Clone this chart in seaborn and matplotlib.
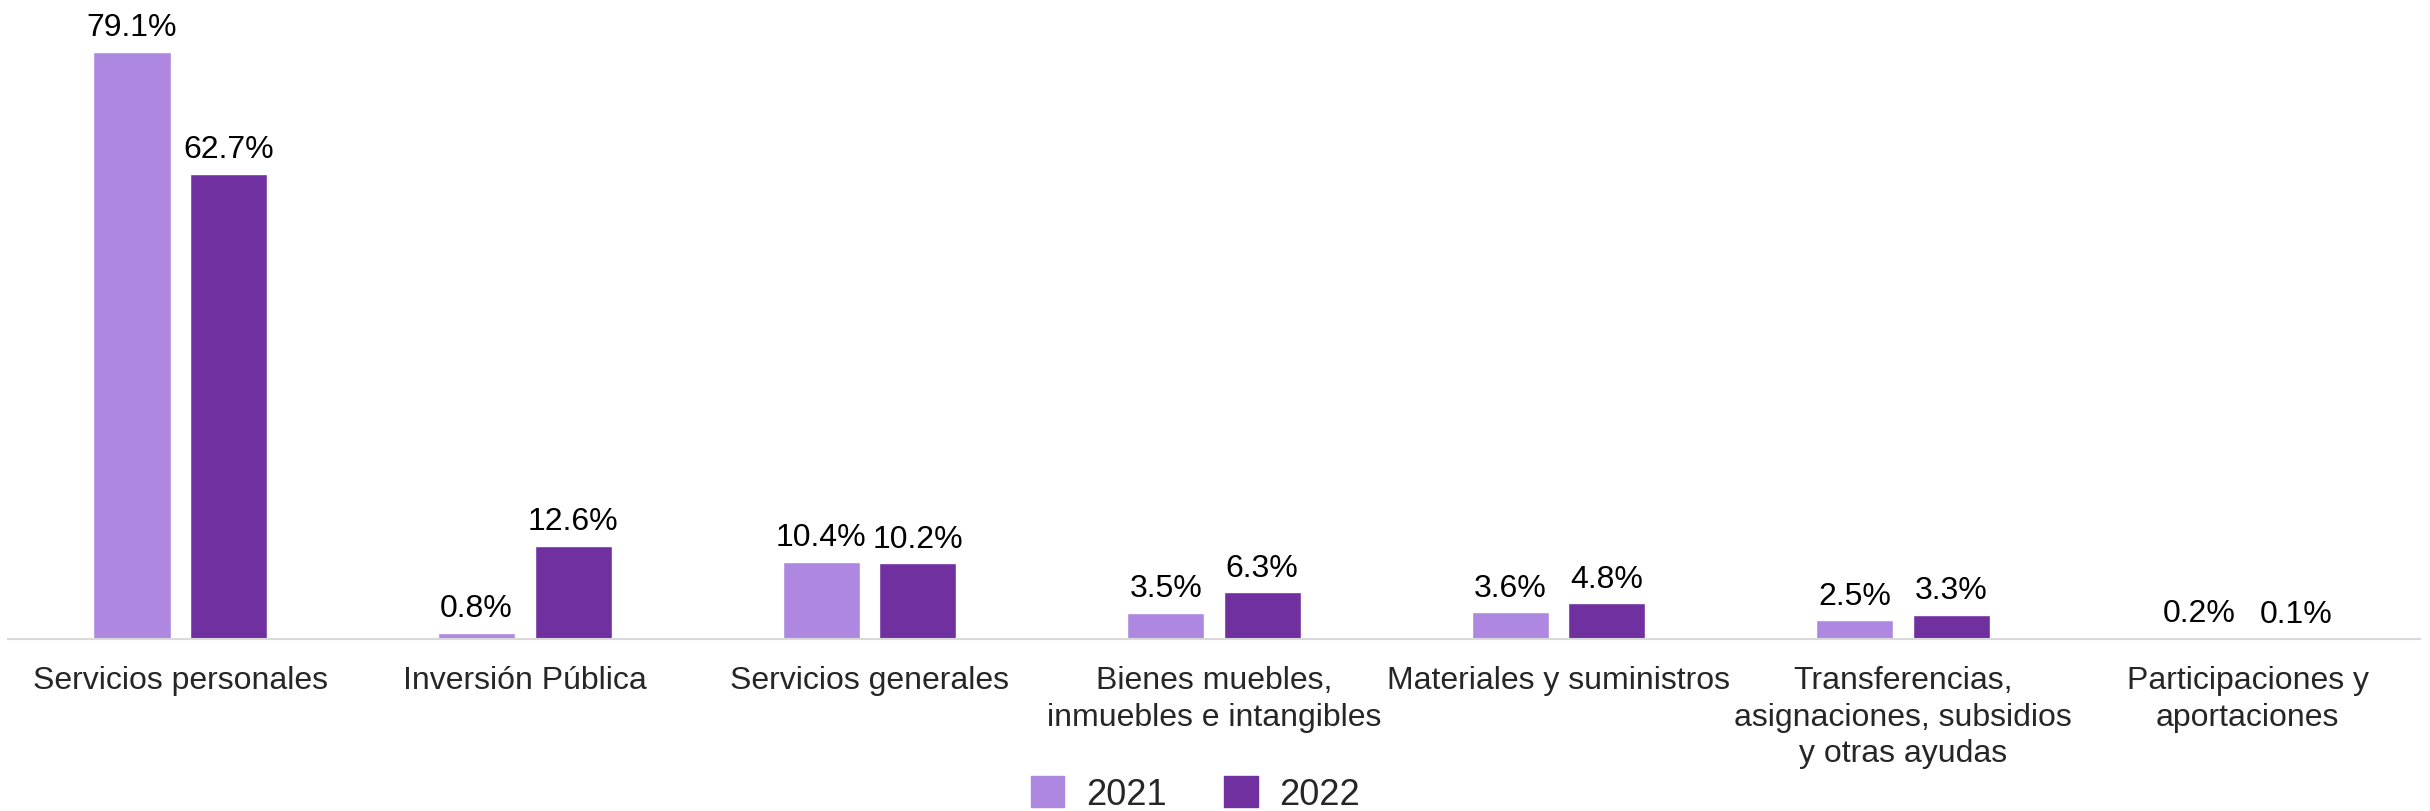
import matplotlib
matplotlib.use("Agg")
import matplotlib.pyplot as plt
import seaborn as sns
import pandas as pd

categories = ["Servicios personales", "Inversión Pública", "Servicios generales",
              "Bienes muebles,\ninmuebles e intangibles", "Materiales y suministros",
              "Transferencias,\nasignaciones, subsidios\ny otras ayudas",
              "Participaciones y\naportaciones"]
values_2021 = [79.1, 0.8, 10.4, 3.5, 3.6, 2.5, 0.2]
values_2022 = [62.7, 12.6, 10.2, 6.3, 4.8, 3.3, 0.1]
years = ["2021", "2022"]
colors = ["#AE88E0", "#7030A0"]

df = pd.DataFrame({
    "cat": categories * 2,
    "year": [years[0]] * len(categories) + [years[1]] * len(categories),
    "val": values_2021 + values_2022,
})

sns.set_theme(style="white")
plt.rcParams["font.family"] = ["Liberation Sans", "DejaVu Sans"]

fig = plt.figure(figsize=(24.3, 8.12), dpi=100)
ax = fig.add_axes([8/2430, 1-640/812, (2420-8)/2430, (640-5)/812])

sns.barplot(data=df, x="cat", y="val", hue="year", palette=colors, ax=ax,
            width=0.56, gap=0.2, saturation=1, legend=True, errorbar=None)

for cont in ax.containers:
    ax.bar_label(cont, labels=[f"{v:.1f}%" for v in cont.datavalues],
                 padding=7, fontsize=23, color="black")

ax.set_ylim(0, 85.6)
ax.set_xlim(-0.5, len(categories) - 0.5)
ax.set_xlabel("")
ax.set_ylabel("")
ax.set_yticks([])
for s in ["top", "right", "left"]:
    ax.spines[s].set_visible(False)
ax.spines["bottom"].set_color("#D9D9D9")
ax.spines["bottom"].set_linewidth(1.5)
ax.tick_params(axis="x", length=0, pad=19, labelsize=23)
for t in ax.get_xticklabels():
    t.set_linespacing(1.27)
    t.set_verticalalignment("top")

ax.legend_.remove()
handles = [plt.Rectangle((0, 0), 1, 1, color=c) for c in colors]
fig.legend(handles, years, loc="center", bbox_to_anchor=(0.492, 0.021),
           ncol=2, frameon=False, fontsize=26, handlelength=0.92, handleheight=0.92,
           handletextpad=0.6, columnspacing=1.6, borderaxespad=0, borderpad=0)

fig.savefig("out.png", dpi=100, facecolor="white")
